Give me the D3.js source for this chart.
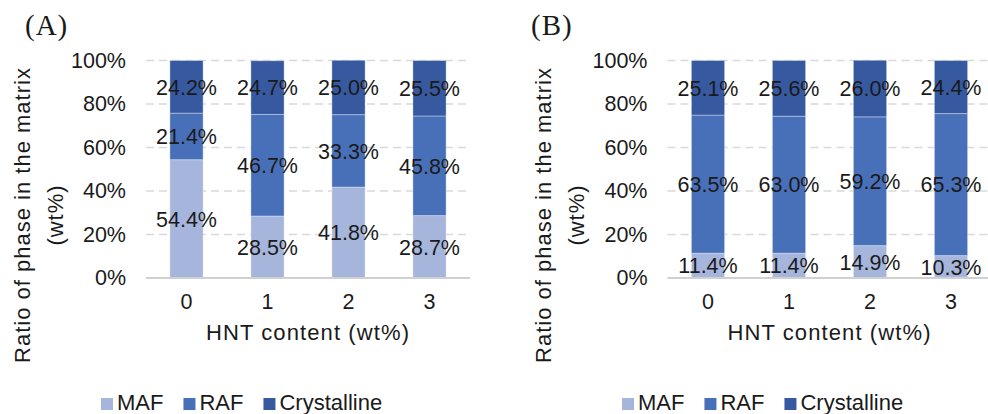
<!DOCTYPE html>
<html>
<head>
<meta charset="utf-8">
<script src="https://cdn.jsdelivr.net/npm/d3@7"></script>
<style>
  html, body { margin: 0; padding: 0; background: #fff; }
  svg { display: block; }
  text { font-family: Arial, "Liberation Sans", sans-serif; fill: #1a1a1a; }
</style>
</head>
<body>
<svg id="chart" width="988" height="414"></svg>
<script>
// HNT loading levels (wt%)
const categories = ["0", "1", "2", "3"];
const seriesNames = ["MAF", "RAF", "Crystalline"];
const seriesColors = ["#A6B5DB", "#4870B8", "#3759A0"];
const yTicks = [0, 20, 40, 60, 80, 100];

// Panel (A): phase fractions, %
const mafA = [54.4, 28.5, 41.8, 28.7];
const rafA = [21.4, 46.7, 33.3, 45.8];
const crystA = [24.2, 24.7, 25.0, 25.5];

// Panel (B): phase fractions, %
const mafB = [11.4, 11.4, 14.9, 10.3];
const rafB = [63.5, 63.0, 59.2, 65.3];
const crystB = [25.1, 25.6, 26.0, 24.4];

const svg = d3.select("#chart");

function drawPanel(opt) {
  const g = svg.append("g");
  const rows = categories.map((c, i) => ({
    cat: c, MAF: opt.maf[i], RAF: opt.raf[i], Crystalline: opt.cryst[i]
  }));
  const stacked = d3.stack().keys(seriesNames)(rows);

  const x = d3.scaleBand().domain(categories)
    .range([opt.left, opt.right]).paddingInner(0.59).paddingOuter(0.295);
  const y = d3.scaleLinear().domain([0, 100]).range([opt.bottom, opt.top]);

  // dashed gridlines
  g.append("g").selectAll("line").data(yTicks.filter(t => t > 0)).join("line")
    .attr("x1", opt.left).attr("x2", opt.right)
    .attr("y1", d => y(d)).attr("y2", d => y(d))
    .attr("stroke", "#D9D9D9").attr("stroke-width", 1.5)
    .attr("stroke-dasharray", "8,5");

  // y axis labels
  const yAxis = d3.axisLeft(y).tickValues(yTicks).tickFormat(d => d + "%")
    .tickSize(0).tickPadding(20);
  const ya = g.append("g").attr("transform", `translate(${opt.left},0)`).call(yAxis);
  ya.select(".domain").remove();
  ya.selectAll("text").style("font-size", "21.5px").attr("fill", "#1a1a1a")
    .style("font-family", "Arial, 'Liberation Sans', sans-serif");

  // stacked bars
  stacked.forEach((s, si) => {
    g.append("g").selectAll("rect").data(s).join("rect")
      .attr("x", d => x(d.data.cat))
      .attr("width", x.bandwidth())
      .attr("y", d => y(d[1]))
      .attr("height", d => y(d[0]) - y(d[1]))
      .attr("fill", seriesColors[si])
      .attr("stroke", "rgba(255,255,255,0.35)").attr("stroke-width", 1);
  });

  // baseline
  g.append("line").attr("x1", opt.left).attr("x2", opt.right)
    .attr("y1", y(0)).attr("y2", y(0))
    .attr("stroke", "#D0D0D0").attr("stroke-width", 2);

  // x axis labels
  const xAxis = d3.axisBottom(x).tickSize(0).tickPadding(16);
  const xa = g.append("g").attr("transform", `translate(0,${y(0)})`).call(xAxis);
  xa.select(".domain").remove();
  xa.selectAll("text").style("font-size", "21.5px").attr("fill", "#1a1a1a")
    .style("font-family", "Arial, 'Liberation Sans', sans-serif");

  // data labels
  stacked.forEach((s) => {
    g.append("g").selectAll("text").data(s).join("text")
      .attr("x", d => x(d.data.cat) + x.bandwidth() / 2)
      .attr("y", d => y((d[0] + d[1]) / 2))
      .attr("dy", "0.36em")
      .attr("text-anchor", "middle")
      .style("font-size", "21.5px")
      .text(d => (d[1] - d[0]).toFixed(1) + "%");
  });

  // axis titles
  g.append("text")
    .attr("x", (opt.left + opt.titleRight) / 2).attr("y", 340)
    .attr("text-anchor", "middle")
    .style("font-size", "22px").style("letter-spacing", "1.1px")
    .text("HNT content (wt%)");

  const yt = g.append("text")
    .attr("transform", `translate(${opt.yTitleX},215) rotate(-90)`)
    .attr("text-anchor", "middle")
    .style("font-size", "22px").style("letter-spacing", "1px");
  yt.append("tspan").attr("x", 0).attr("y", 0).text("Ratio of phase in the matrix");
  yt.append("tspan").attr("x", 0).attr("y", 33).text("(wt%)");

  // panel tag
  g.append("text").attr("x", opt.tagX).attr("y", 35)
    .style("font-family", "'Liberation Serif', 'Times New Roman', serif")
    .style("font-size", "29px").style("letter-spacing", "1px")
    .text(opt.tag);

  // legend
  const lg = g.append("g").attr("transform", `translate(${opt.legendX},0)`);
  let cx = 0;
  seriesNames.forEach((name, i) => {
    lg.append("rect").attr("x", cx).attr("y", 398).attr("width", 12).attr("height", 12)
      .attr("fill", seriesColors[i]);
    const t = lg.append("text").attr("x", cx + 16).attr("y", 410)
      .style("font-size", "22px").text(name);
    cx += 16 + t.node().getComputedTextLength() + 20;
  });
}

drawPanel({
  tag: "(A)", tagX: 25, maf: mafA, raf: rafA, cryst: crystA,
  left: 146, right: 470, titleRight: 470, top: 60.5, bottom: 278,
  yTitleX: 30, legendX: 101
});

drawPanel({
  tag: "(B)", tagX: 531, maf: mafB, raf: rafB, cryst: crystB,
  left: 667.5, right: 991.5, titleRight: 991.5, top: 60.5, bottom: 278,
  yTitleX: 551, legendX: 622
});
</script>
</body>
</html>
